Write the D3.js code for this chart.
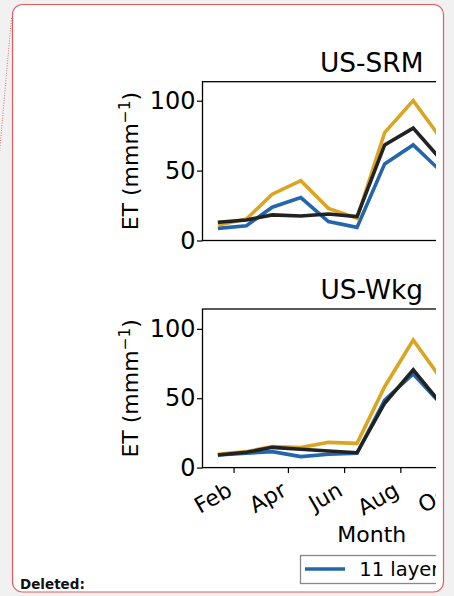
<!DOCTYPE html>
<html>
<head>
<meta charset="utf-8">
<script src="https://cdn.jsdelivr.net/npm/d3@7"></script>
<style>
  html, body { margin: 0; padding: 0; background: #f1f1f1; }
  svg { display: block; }
</style>
</head>
<body>
<svg id="chart" width="454" height="596"></svg>
<script>
// ---- data ----
const months = ["Jan","Feb","Mar","Apr","May","Jun","Jul","Aug","Sep","Oct","Nov","Dec"];
const tickLabels = ["Feb","Apr","Jun","Aug","Oct","Dec"];
const tickMonthIdx = [1,3,5,7,9,11];
const seriesNames = ["11 layers","1 layer","Observed"];
const seriesColors = ["#2466ad","#daa520","#222222"];
const sites = ["US-SRM","US-Wkg"];
const srm11  = [8.7,10.6,23.8,30.7,13.5,9.4,54.8,68.4,48.9,30,14,9];
const srm1   = [11.1,15.4,33.1,42.8,23.0,15.9,77.2,100.1,72.2,45,20,12];
const srmObs = [13.0,14.7,18.3,17.5,19.0,17.1,68.4,80.4,57.1,35,18,13];
const wkg11  = [9.1,10.3,11.5,7.9,9.6,10.3,48.7,67.5,45.3,25,12,9];
const wkg1   = [9.6,11.5,15.1,14.4,18.2,17.5,58.3,92.0,63.4,35,15,10];
const wkgObs = [9.1,11.0,14.6,13.2,12.0,10.7,46.4,70.4,45.5,25,12,9];
const yTicks = [0,50,100];

const panelData = [[srm11, srm1, srmObs],[wkg11, wkg1, wkgObs]];

// ---- layout ----
const svg = d3.select("#chart");
const FONT = "DejaVu Sans, sans-serif";
const YTICK_FS = 24;
const XTICK_FS = 22;

// page box
svg.append("line").attr("x1",11.5).attr("y1",18).attr("x2",-1).attr("y2",158)
  .attr("stroke","#e07070").attr("stroke-width",1).attr("stroke-dasharray","1,1.5");
svg.append("rect").attr("x",12.5).attr("y",4.5).attr("width",431).attr("height",587.5)
  .attr("rx",10).attr("ry",10).attr("fill","#ffffff").attr("stroke","#e05c5c").attr("stroke-width",1.2);

svg.append("defs").append("clipPath").attr("id","clipR")
  .append("rect").attr("x",13).attr("y",5).attr("width",423).attr("height",586);

const g = svg.append("g").attr("clip-path","url(#clipR)");

const dates = months.map((m,i) => new Date(2015, i, 15));
const pad = 16.7 * 864e5;
const x = d3.scaleTime()
  .domain([new Date(dates[0].getTime() - pad), new Date(dates[11].getTime() + pad)])
  .range([202.5, 541]);

const panels = [
  {top: 81.7, bottom: 240.5, ymax: 113.6, titleY: 71.7, showX: false},
  {top: 309, bottom: 467.6, ymax: 114.3, titleY: 299.3, showX: true}
];

panels.forEach((p, pi) => {
  const y = d3.scaleLinear().domain([0, p.ymax]).range([p.bottom, p.top]);
  const pg = g.append("g");

  // lines
  const line = d3.line().x((d,i) => x(dates[i])).y(d => y(d));
  panelData[pi].forEach((vals, si) => {
    pg.append("path").datum(vals).attr("d", line)
      .attr("fill","none").attr("stroke", seriesColors[si])
      .attr("stroke-width",3.6).attr("stroke-linejoin","miter");
  });

  // frame
  pg.append("rect").attr("x", x.range()[0]).attr("y", p.top)
    .attr("width", x.range()[1]-x.range()[0]).attr("height", p.bottom-p.top)
    .attr("fill","none").attr("stroke","#000").attr("stroke-width",1.3);

  // y axis
  const ya = pg.append("g").attr("transform",`translate(${x.range()[0]},0)`)
    .call(d3.axisLeft(y).tickValues(yTicks).tickSize(5.5).tickPadding(1.5));
  ya.select(".domain").remove();
  ya.selectAll("line").attr("stroke","#000").attr("stroke-width",1.2);
  ya.selectAll("text").attr("font-family",FONT).attr("font-size",YTICK_FS).attr("fill","#000");

  // x axis
  if (p.showX) {
    const tv = tickMonthIdx.map(m => new Date(2015, m, 1));
    const xa = pg.append("g").attr("transform",`translate(0,${p.bottom})`)
      .call(d3.axisBottom(x).tickValues(tv).tickSize(5.5).tickFormat((d,i) => tickLabels[i]));
    xa.select(".domain").remove();
    xa.selectAll("line").attr("stroke","#000").attr("stroke-width",1.2);
    xa.selectAll("text")
      .attr("font-family",FONT).attr("font-size",XTICK_FS).attr("fill","#000")
      .attr("text-anchor","end").attr("y",0).attr("dy","0.78em")
      .attr("transform","translate(-9,12) rotate(-30)");
  }

  // title
  pg.append("text").attr("x",(x.range()[0]+x.range()[1])/2).attr("y",p.titleY)
    .attr("text-anchor","middle").attr("font-family",FONT).attr("font-size",26.4)
    .attr("fill","#000").text(sites[pi]);

  // y label
  const yl = pg.append("text")
    .attr("transform",`translate(137.5,${(p.top+p.bottom)/2}) rotate(-90)`)
    .attr("text-anchor","middle").attr("font-family",FONT).attr("font-size",22).attr("fill","#000");
  yl.append("tspan").text("ET (mmm");
  yl.append("tspan").attr("font-size",15.4).attr("dy",-8).text("\u22121");
  yl.append("tspan").attr("dy",8).text(")");
});

// x label
g.append("text").attr("x",(x.range()[0]+x.range()[1])/2).attr("y",541.7)
  .attr("text-anchor","middle").attr("font-family",FONT).attr("font-size",22)
  .attr("fill","#000").text("Month");

// legend
const lg = g.append("g");
lg.append("rect").attr("x",300.5).attr("y",555.5).attr("width",300).attr("height",28)
  .attr("fill","#fff").attr("stroke","#888").attr("stroke-width",1.3);
seriesNames.forEach((name, i) => {
  const lx = 305 + i*150;
  lg.append("line").attr("x1",lx).attr("x2",lx+40).attr("y1",569).attr("y2",569)
    .attr("stroke",seriesColors[i]).attr("stroke-width",3.6);
  lg.append("text").attr("x",lx+54.3).attr("y",576).attr("font-family",FONT)
    .attr("font-size",19.5).attr("fill","#000").text(name);
});

// deleted label
svg.append("text").attr("x",20).attr("y",589).attr("font-family","DejaVu Sans, sans-serif")
  .attr("font-weight","bold").attr("font-size",13.5).attr("fill","#111").text("Deleted:");
</script>
</body>
</html>
